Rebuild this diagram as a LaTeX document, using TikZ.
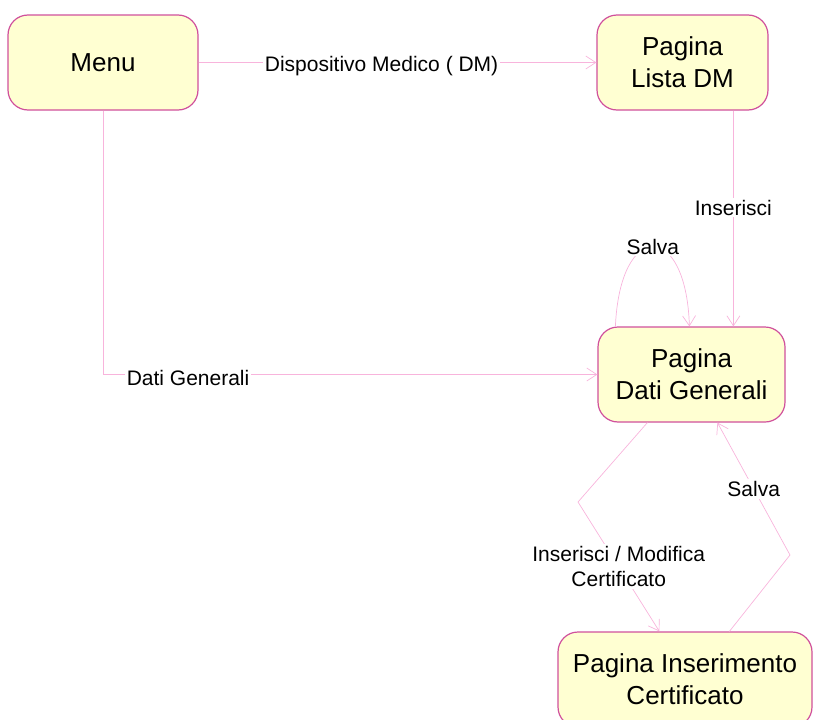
\documentclass[tikz,border=0pt]{standalone}
\usepackage{fontspec}
\setmainfont{Liberation Sans}
\usetikzlibrary{arrows.meta,calc}
\definecolor{statefill}{HTML}{FFFFD2}
\definecolor{stateline}{HTML}{D0509C}
\definecolor{edgeline}{HTML}{F8B4DC}
\tikzset{
    state/.style={draw=stateline, fill=statefill, rounded corners=20pt, line width=1.2pt, align=center, inner sep=0pt, minimum height=95pt, font=\fontsize{26}{32}\selectfont},
    trans/.style={draw=edgeline, line width=0.7pt, -{Straight Barb[length=10pt,width=13pt]}},
    lbl/.style={fill=white, inner sep=2pt, align=center, font=\fontsize{21}{25}\selectfont}
}
\begin{document}
\begin{tikzpicture}[x=1pt, y=-1pt]
        \useasboundingbox (0, 0) rectangle (817, 720);
        \node[state, minimum width=190pt] at (103, 62.5) (menu) {Menu};
        \node[state, minimum width=171pt] at (682.5, 62.5) (lista) {Pagina\\Lista DM};
        \node[state, minimum width=187pt] at (691.5, 374.5) (dati) {Pagina\\Dati Generali};
        \node[state, minimum width=254pt] at (685, 679.5) (cert) {Pagina Inserimento\\Certificato};
        \coordinate (k1) at (578, 502);
        \coordinate (k2) at (790, 555);
        \draw[trans] (menu.east) -- node[lbl, pos=0.46, yshift=-4pt] {Dispositivo Medico ( DM)} (lista.west);
        \draw[trans] ($(lista.south west)+(137, 0)$) -- node[lbl, pos=0.45] {Inserisci} ($(dati.north west)+(136, 0)$);
        \draw[trans] ($(dati.north west)+(18, 0)$) .. controls (620, 220) and (686, 220) .. node[lbl, pos=0.5] {Salva} ($(dati.north west)+(92, 0)$);
        \draw[trans] (menu.south) |- node[lbl, pos=0.586, yshift=-3pt] {Dati Generali} (dati.west);
        \draw[trans] ($(dati.south west)+(50, 0)$) -- (k1) -- node[lbl, pos=0.5] {Inserisci / Modifica\\Certificato} ($(cert.north west)+(102, 0)$);
        \draw[trans] ($(cert.north west)+(172, 0)$) -- (k2) -- node[lbl, pos=0.5] {Salva} ($(dati.south west)+(120, 0)$);
\end{tikzpicture}
\end{document}
